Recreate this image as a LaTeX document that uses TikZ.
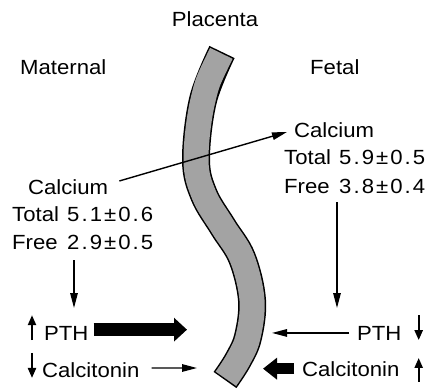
\documentclass[tikz,border=0pt]{standalone}
\usepackage{fontspec}
\setmainfont[FakeStretch=1.08]{Liberation Sans}
\newfontfamily\numfont[FakeStretch=1.08,LetterSpace=10]{Liberation Sans}
\usetikzlibrary{arrows.meta,calc}
\begin{document}
\begin{tikzpicture}[x=1pt,y=-1pt,
  lbl/.style={inner sep=0pt, anchor=base west, font=\fontsize{20.5}{24}\selectfont},
  num/.style={lbl, font=\numfont\fontsize{20.5}{24}\selectfont},
  thinarrow/.style={line width=1.4pt, -{Triangle[length=15pt,width=7.5pt]}},
  tinyarrow/.style={line width=2.2pt, -{Triangle[length=10pt,width=8pt]}},
  fatarrow/.style={line width=13pt, -{Triangle[length=13pt,width=23pt]}},
  fatarrowb/.style={line width=11pt, -{Triangle[length=14pt,width=21pt]}},
  bandout/.style={line width=28pt, black},
  bandin/.style={line width=25pt, black!36, shorten <=1.5pt, shorten >=1.5pt}]
\useasboundingbox (0,0) rectangle (439,389);
% placenta band
\draw[bandout] plot[smooth, tension=0.6] coordinates {(222,52) (203,100) (196,160) (204,195) (223,227) (242,258) (252,300) (248,337) (238,360) (225,380)};
\draw[bandin] plot[smooth, tension=0.6] coordinates {(222,52) (203,100) (196,160) (204,195) (223,227) (242,258) (252,300) (248,337) (238,360) (225,380)};
% labels
\node[lbl, anchor=base] (plac) at (215,26) {Placenta};
\node[lbl] (mat) at (20,74) {Maternal};
\node[lbl] (fet) at (310,74) {Fetal};
\node[lbl] (calR) at (294,137) {Calcium};
\node[lbl] (totR) at (284,164) {Total};
\node[num] (totRn) at (339,164) {5.9±0.5};
\node[lbl] (freeR) at (284,193) {Free};
\node[num] (freeRn) at (339,193) {3.8±0.4};
\node[lbl] (calL) at (28,194) {Calcium};
\node[lbl] (totL) at (12,221) {Total};
\node[num] (totLn) at (67,221) {5.1±0.6};
\node[lbl] (freeL) at (12,249) {Free};
\node[num] (freeLn) at (67,249) {2.9±0.5};
\node[lbl] (pthL) at (44,340) {PTH};
\node[lbl] (calcL) at (42,377) {Calcitonin};
\node[lbl] (pthR) at (357,340) {PTH};
\node[lbl] (calcR) at (302,376) {Calcitonin};
% free-end coordinates near the placenta
\coordinate (plL1) at (187,329.5);
\coordinate (plL2) at (197,368);
\coordinate (plR1) at (272,333);
\coordinate (plR2) at (263,368.5);
% calcium transfer
\draw[thinarrow] ($(calL.east)+(11,-5.7)$) -- ($(calR.west)+(-7,2.3)$);
% vertical arrows
\coordinate (ls) at ($(freeLn.south west)+(7,11)$);
\coordinate (le) at ($(ls |- pthL.north)+(0,-17.7)$);
\draw[thinarrow] (ls) -- (le);
\coordinate (rs) at ($(freeRn.south west)+(-2,9)$);
\coordinate (re) at ($(rs |- pthR.north)+(0,-17.7)$);
\draw[thinarrow] (rs) -- (re);
% horizontal arrows
\draw[fatarrow] ($(pthL.east)+(5,-3.3)$) -- (plL1 |- {$(pthL.east)+(0,-3.3)$});
\draw[thinarrow] ($(calcL.east)+(12,-1.7)$) -- (plL2);
\draw[thinarrow] ($(pthR.west)+(-8,0)$) -- (plR1 |- pthR.west);
\draw[fatarrowb] ($(calcR.west)+(-8,0)$) -- (plR2 |- calcR.west);
% small up/down arrows
\draw[tinyarrow] ($(pthL.west)+(-12,7.2)$) -- ($(pthL.west)+(-12,-17.8)$);
\draw[tinyarrow] ($(pthL.west)+(-12,20)$) -- ($(pthL.west)+(-12,45)$);
\draw[tinyarrow] ($(pthR.east)+(17,-17.8)$) -- ($(pthR.east)+(17,7.2)$);
\draw[tinyarrow] ($(pthR.east)+(17,49)$) -- ($(pthR.east)+(17,25)$);
\end{tikzpicture}
\end{document}
